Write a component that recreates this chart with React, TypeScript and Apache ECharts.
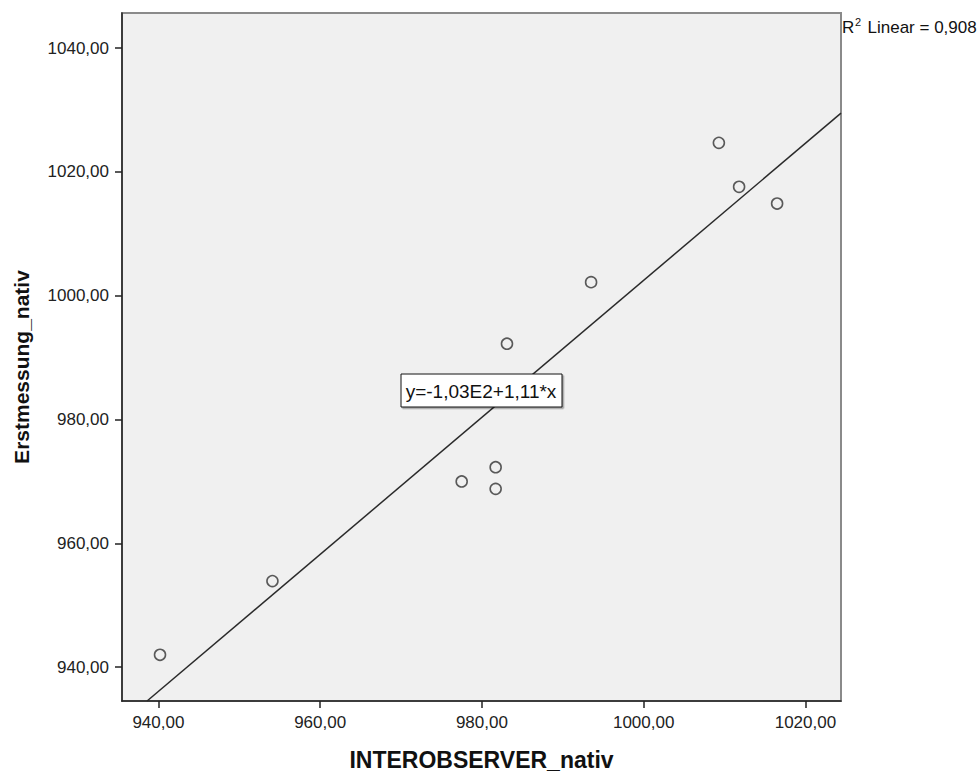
import React, { useEffect, useRef } from "react";
import * as echarts from "echarts";

const xValues = [940.2, 954.1, 977.5, 981.7, 981.7, 983.1, 993.5, 1009.3, 1011.8, 1016.5];
const yValues = [942.0, 953.9, 970.0, 972.3, 968.8, 992.25, 1002.2, 1024.7, 1017.6, 1014.9];
const fitLine = [
  [938.6, 934.53],
  [1024.4, 1029.5],
];
const xTicks = [940, 960, 980, 1000, 1020];
const yTicks = [940, 960, 980, 1000, 1020, 1040];
const xRange = [935.5, 1024.4];
const yRange = [934.53, 1045.68];
const xTitle = "INTEROBSERVER_nativ";
const yTitle = "Erstmessung_nativ";
const equationText = "y=-1,03E2+1,11*x";
const r2Value = "0,908";

const FONT = "'Liberation Sans', Arial, sans-serif";
const fmt = (v: number) => v.toFixed(2).replace(".", ",");

export default function App() {
  const ref = useRef<HTMLDivElement>(null);
  useEffect(() => {
    if (!ref.current) return;
    const chart = echarts.init(ref.current, undefined, { renderer: "svg" });
    const points = xValues.map((x, i) => [x, yValues[i]]);
    chart.setOption({
      animation: false,
      backgroundColor: "#fff",
      grid: {
        left: 122,
        right: 137,
        top: 13,
        bottom: 72,
        show: true,
        backgroundColor: "#f0f0f0",
        borderColor: "#8a8a8a",
        borderWidth: 2,
      },
      xAxis: {
        type: "value",
        min: xRange[0],
        max: xRange[1],
        name: xTitle,
        nameLocation: "middle",
        nameGap: 47,
        nameTextStyle: { fontFamily: FONT, fontSize: 23, fontWeight: "bold", color: "#111" },
        axisLine: { show: true, lineStyle: { color: "#222", width: 1.5 } },
        axisTick: { show: true, length: 7, customValues: xTicks, lineStyle: { color: "#222", width: 1.5 } },
        axisLabel: {
          customValues: xTicks,
          margin: 13,
          fontFamily: FONT,
          fontSize: 17,
          color: "#222",
          formatter: (v: number) => fmt(v),
        },
        splitLine: { show: false },
      },
      yAxis: {
        type: "value",
        min: yRange[0],
        max: yRange[1],
        axisLine: { show: true, lineStyle: { color: "#222", width: 1.5 } },
        axisTick: { show: true, length: 7, customValues: yTicks, lineStyle: { color: "#222", width: 1.5 } },
        axisLabel: {
          customValues: yTicks,
          margin: 13,
          fontFamily: FONT,
          fontSize: 17,
          color: "#222",
          formatter: (v: number) => fmt(v),
        },
        splitLine: { show: false },
      },
      series: [
        {
          type: "line",
          data: fitLine,
          symbol: "none",
          z: 2,
          lineStyle: { color: "#2a2a2a", width: 1.5 },
        },
        {
          type: "scatter",
          data: points,
          symbol: "circle",
          symbolSize: 11,
          z: 3,
          itemStyle: { color: "rgba(0,0,0,0)", borderColor: "#333", borderWidth: 1.6 },
        },
      ],
      graphic: [
        {
          type: "text",
          z: 11,
          x: 21,
          y: 367,
          rotation: Math.PI / 2,
          style: {
            text: yTitle,
            fontFamily: FONT,
            fontSize: 21,
            fontWeight: "bold",
            fill: "#111",
            align: "center",
            verticalAlign: "middle",
          },
        },
        {
          type: "rect",
          z: 10,
          shape: { x: 401, y: 374, width: 161, height: 33 },
          style: {
            fill: "#fff",
            stroke: "#111",
            lineWidth: 1,
            shadowBlur: 0,
            shadowOffsetX: 1.5,
            shadowOffsetY: 1.5,
            shadowColor: "rgba(0,0,0,0.35)",
          },
        },
        {
          type: "text",
          z: 11,
          x: 481,
          y: 391,
          style: {
            text: equationText,
            fontFamily: FONT,
            fontSize: 19,
            fill: "#111",
            align: "center",
            verticalAlign: "middle",
          },
        },
        {
          type: "text",
          z: 11,
          x: 842,
          y: 35.6,
          style: { text: "R", fontFamily: FONT, fontSize: 17, fill: "#111", align: "left", verticalAlign: "bottom" },
        },
        {
          type: "text",
          z: 11,
          x: 855,
          y: 27.7,
          style: { text: "2", fontFamily: FONT, fontSize: 11, fill: "#111", align: "left", verticalAlign: "bottom" },
        },
        {
          type: "text",
          z: 11,
          x: 867.5,
          y: 35.6,
          style: {
            text: "Linear = " + r2Value,
            fontFamily: FONT,
            fontSize: 17,
            fill: "#111",
            align: "left",
            verticalAlign: "bottom",
          },
        },
      ],
    });
    return () => chart.dispose();
  }, []);
  return <div ref={ref} style={{ width: 978, height: 776, position: "absolute", left: 0, top: 0 }} />;
}
